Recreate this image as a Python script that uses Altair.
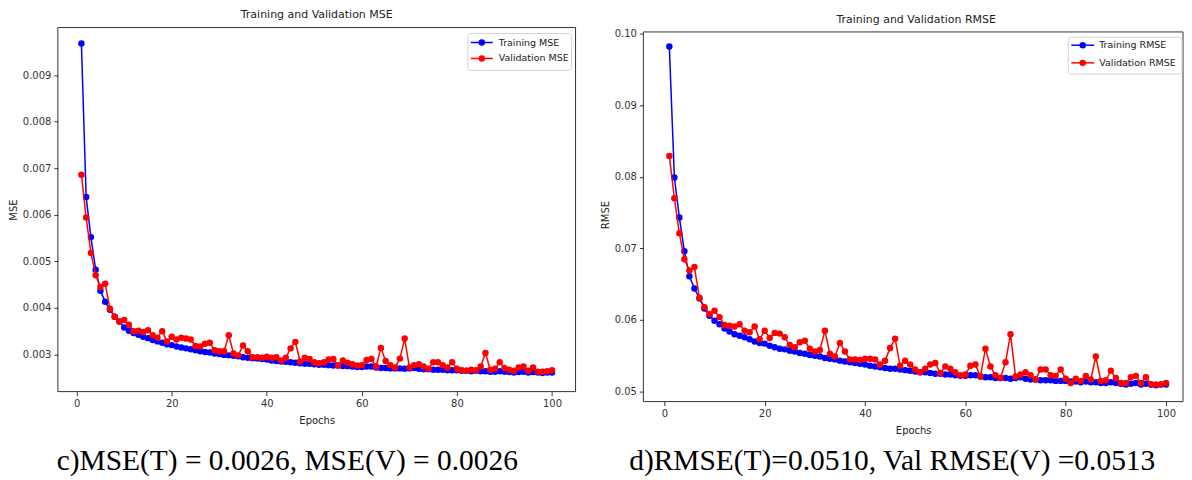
import altair as alt
import pandas as pd

epochs = list(range(1, 101))

mse_train = [
    0.00968, 0.00638, 0.00552, 0.00482, 0.00437, 0.00413, 0.00396, 0.00381, 0.00371, 0.00358,
    0.00351, 0.00346, 0.00342, 0.00338, 0.00335, 0.00331, 0.00328, 0.00325, 0.00322, 0.00320,
    0.00317, 0.00315, 0.00313, 0.00311, 0.00309, 0.00307, 0.00305, 0.00304, 0.00302, 0.00301,
    0.00299, 0.00298, 0.00297, 0.00296, 0.00294, 0.00293, 0.00292, 0.00291, 0.00290, 0.00289,
    0.00287, 0.00286, 0.00285, 0.00284, 0.00283, 0.00282, 0.00281, 0.00280, 0.00280, 0.00279,
    0.00278, 0.00278, 0.00277, 0.00276, 0.00276, 0.00275, 0.00275, 0.00274, 0.00273, 0.00273,
    0.00274, 0.00274, 0.00272, 0.00271, 0.00271, 0.00270, 0.00270, 0.00270, 0.00269, 0.00270,
    0.00271, 0.00269, 0.00268, 0.00268, 0.00267, 0.00267, 0.00267, 0.00266, 0.00266, 0.00266,
    0.00265, 0.00265, 0.00264, 0.00265, 0.00264, 0.00264, 0.00263, 0.00263, 0.00264, 0.00263,
    0.00262, 0.00261, 0.00262, 0.00263, 0.00261, 0.00262, 0.00261, 0.00260, 0.00261, 0.00261,
]
mse_val = [
    0.00686, 0.00594, 0.00518, 0.00470, 0.00445, 0.00452, 0.00398, 0.00381, 0.00370, 0.00374,
    0.00364, 0.00350, 0.00351, 0.00348, 0.00352, 0.00341, 0.00336, 0.00350, 0.00328, 0.00338,
    0.00332, 0.00336, 0.00334, 0.00332, 0.00318, 0.00317, 0.00323, 0.00325, 0.00309, 0.00307,
    0.00307, 0.00341, 0.00302, 0.00298, 0.00319, 0.00307, 0.00294, 0.00294, 0.00293, 0.00295,
    0.00293, 0.00294, 0.00287, 0.00293, 0.00313, 0.00327, 0.00285, 0.00293, 0.00290, 0.00283,
    0.00281, 0.00283, 0.00289, 0.00290, 0.00276, 0.00287, 0.00282, 0.00279, 0.00276, 0.00277,
    0.00288, 0.00290, 0.00274, 0.00314, 0.00286, 0.00277, 0.00272, 0.00291, 0.00334, 0.00272,
    0.00277, 0.00279, 0.00274, 0.00269, 0.00283, 0.00283, 0.00277, 0.00272, 0.00283, 0.00269,
    0.00266, 0.00265, 0.00267, 0.00266, 0.00274, 0.00303, 0.00267, 0.00269, 0.00283, 0.00271,
    0.00267, 0.00265, 0.00272, 0.00274, 0.00265, 0.00272, 0.00263, 0.00263, 0.00264, 0.00266,
]
rmse_train = [
    0.0982, 0.0799, 0.0743, 0.0696, 0.0661, 0.0644, 0.0630, 0.0616, 0.0606, 0.0599,
    0.0594, 0.0588, 0.0584, 0.0580, 0.0578, 0.0576, 0.0573, 0.0570, 0.0568, 0.0567,
    0.0564, 0.0562, 0.0560, 0.0559, 0.0557, 0.0556, 0.0554, 0.0553, 0.0551, 0.0550,
    0.0549, 0.0547, 0.0546, 0.0545, 0.0543, 0.0542, 0.0541, 0.0540, 0.0539, 0.0538,
    0.0536, 0.0535, 0.0534, 0.0533, 0.0532, 0.0532, 0.0531, 0.0530, 0.0529, 0.0528,
    0.0527, 0.0527, 0.0526, 0.0525, 0.0525, 0.0524, 0.0524, 0.0523, 0.0522, 0.0522,
    0.0523, 0.0523, 0.0521, 0.0520, 0.0520, 0.0519, 0.0519, 0.0519, 0.0518, 0.0519,
    0.0520, 0.0518, 0.0517, 0.0517, 0.0516, 0.0516, 0.0516, 0.0515, 0.0515, 0.0515,
    0.0514, 0.0514, 0.0513, 0.0514, 0.0513, 0.0513, 0.0512, 0.0512, 0.0513, 0.0512,
    0.0511, 0.0510, 0.0511, 0.0512, 0.0510, 0.0511, 0.0510, 0.0509, 0.0510, 0.0510,
]
rmse_val = [
    0.0829, 0.0770, 0.0721, 0.0685, 0.0669, 0.0674, 0.0631, 0.0618, 0.0608, 0.0613,
    0.0604, 0.0593, 0.0592, 0.0591, 0.0594, 0.0585, 0.0583, 0.0591, 0.0573, 0.0585,
    0.0575, 0.0582, 0.0581, 0.0576, 0.0565, 0.0562, 0.0569, 0.0571, 0.0560, 0.0556,
    0.0558, 0.0585, 0.0553, 0.0549, 0.0568, 0.0556, 0.0545, 0.0545, 0.0544, 0.0546,
    0.0546, 0.0545, 0.0538, 0.0543, 0.0561, 0.0574, 0.0536, 0.0543, 0.0538, 0.0531,
    0.0527, 0.0532, 0.0538, 0.0540, 0.0526, 0.0535, 0.0532, 0.0527, 0.0523, 0.0524,
    0.0536, 0.0538, 0.0521, 0.0560, 0.0535, 0.0523, 0.0519, 0.0541, 0.0580, 0.0521,
    0.0524, 0.0527, 0.0523, 0.0517, 0.0531, 0.0531, 0.0523, 0.0522, 0.0531, 0.0518,
    0.0512, 0.0518, 0.0515, 0.0522, 0.0517, 0.0549, 0.0515, 0.0516, 0.0529, 0.0519,
    0.0512, 0.0512, 0.0520, 0.0522, 0.0512, 0.0520, 0.0510, 0.0510, 0.0510, 0.0512,
]

mse_names = ["Training MSE", "Validation MSE"]
rmse_names = ["Training RMSE", "Validation RMSE"]
panel_titles = ["Training and Validation MSE", "Training and Validation RMSE"]
y_titles = ["MSE", "RMSE"]
x_title = "Epochs"
captions = ["c)MSE(T) = 0.0026, MSE(V) = 0.0026", "d)RMSE(T)=0.0510, Val RMSE(V) =0.0513"]
x_ticks = [0, 20, 40, 60, 80, 100]
mse_ticks = [0.003, 0.004, 0.005, 0.006, 0.007, 0.008, 0.009]
rmse_ticks = [0.05, 0.06, 0.07, 0.08, 0.09, 0.10]
series_colors = ["#0000ff", "#ff0000"]

FONT = "DejaVu Sans"


def panel(train, val, names, title, ytitle, yticks, yfmt, xdomain, ydomain, W, H, frame_top,
          leg, cap, toff, tdx):
    x = alt.X("epoch:Q", title=x_title,
              scale=alt.Scale(domain=xdomain, nice=False, zero=False),
              axis=alt.Axis(values=x_ticks, format="d", titlePadding=7))
    y = alt.Y("value:Q", title=ytitle,
              scale=alt.Scale(domain=ydomain, nice=False, zero=False),
              axis=alt.Axis(values=yticks, format=yfmt))
    one = pd.DataFrame({"k": [0]})
    layers = [alt.Chart(one).mark_rect(fillOpacity=0, stroke="#333", strokeWidth=1).encode(
        x=alt.value(0), x2=alt.value(W), y=alt.value(frame_top), y2=alt.value(H))]
    for vals, color in zip([train, val], series_colors):
        df = pd.DataFrame({"epoch": epochs, "value": vals})
        base = alt.Chart(df)
        layers.append(base.mark_line(color=color, strokeWidth=1.5).encode(x=x, y=y))
        layers.append(base.mark_circle(color=color, size=42, opacity=1).encode(x=x, y=y))

    # legend box
    bx1, bx2, by1, by2 = leg["box"]
    layers.append(alt.Chart(one).mark_rect(fill="white", stroke="#d0d0d0", strokeWidth=1,
                                           cornerRadius=3, opacity=0.9).encode(
        x=alt.value(bx1), x2=alt.value(bx2), y=alt.value(by1), y2=alt.value(by2)))
    for i, (name, color) in enumerate(zip(names, series_colors)):
        ldf = pd.DataFrame({"label": [name]})
        yy = leg["ys"][i]
        lc = alt.Chart(ldf)
        layers.append(lc.mark_rule(color=color, strokeWidth=1.5).encode(
            x=alt.value(leg["line"][0]), x2=alt.value(leg["line"][1]), y=alt.value(yy)))
        layers.append(lc.mark_circle(color=color, size=42, opacity=1).encode(
            x=alt.value(leg["mk"]), y=alt.value(yy)))
        layers.append(lc.mark_text(align="left", baseline="middle", font=FONT, fontSize=9.5,
                                   color="#222").encode(
            x=alt.value(leg["tx"]), y=alt.value(yy), text="label:N"))

    cdf = pd.DataFrame({"caption": [cap["text"]]})
    layers.append(alt.Chart(cdf).mark_text(align="center", baseline="middle",
                                           font="Liberation Serif", fontSize=29.5,
                                           color="#000").encode(
        x=alt.value(cap["x"]), y=alt.value(cap["y"]), text="caption:N"))

    return alt.layer(*layers).properties(
        width=W, height=H,
        title=alt.TitleParams(text=title, fontSize=11, font=FONT, fontWeight="normal",
                              color="#222", offset=toff, anchor="middle", dx=tdx))


left = panel(mse_train, mse_val, mse_names, panel_titles[0], y_titles[0], mse_ticks, ".3f",
             [-3.95, 104.95], [0.002201, 0.010022], 519, 365, 0,
             {"box": (411, 515, 6, 43), "line": (414, 436), "mk": 425, "ys": [15, 31], "tx": 442},
             {"text": captions[0], "x": 230, "y": 435}, 7, 0)
right = panel(rmse_train, rmse_val, rmse_names, panel_titles[1], y_titles[1], rmse_ticks, ".2f",
              [-4.175, 103.38], [0.048607, 0.100836], 541, 375, 4.4,
              {"box": (426, 540, 9.7, 46.7), "line": (429, 452), "mk": 440.5, "ys": [17.7, 35.4],
               "tx": 457},
              {"text": captions[1], "x": 249.5, "y": 435}, 3, 3)

chart = alt.hconcat(left, right, spacing=23).properties(padding=0).configure_view(
    stroke=None
).configure_axis(
    grid=False, domain=False, tickColor="#333", tickSize=4, labelFont=FONT,
    labelFontSize=10, labelColor="#333", titleFont=FONT, titleFontSize=10,
    titleFontWeight="normal", titleColor="#222", labelPadding=3, titlePadding=4
)

chart.save("out.html", embed_options={"renderer": "svg", "actions": False})
